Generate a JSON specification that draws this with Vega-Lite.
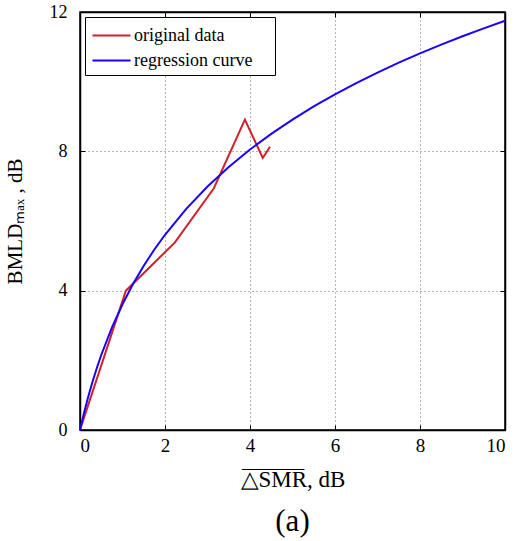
{
  "$schema": "https://vega.github.io/schema/vega-lite/v6.json",
  "width": 425,
  "height": 418,
  "autosize": "none",
  "padding": {"left": 80, "top": 12, "right": 10, "bottom": 111},
  "background": "white",
  "title": {"text": "(a)", "orient": "bottom", "font": "Liberation Serif", "fontSize": 31, "fontWeight": "normal", "color": "black", "offset": 16, "anchor": "middle"},
  "config": {
    "font": "Liberation Serif",
    "view": {"stroke": "black", "strokeWidth": 1.5},
    "style": {"guide-label": {"font": "Liberation Serif"}, "guide-title": {"font": "Liberation Serif"}},
    "axis": {"labelFont": "Liberation Serif", "titleFont": "Liberation Serif"},
    "legend": {"labelFont": "Liberation Serif"}
  },
  "data": {"values": [
    {"series": "original data", "x": 0, "y": 0},
    {"series": "original data", "x": 1.08, "y": 4.0},
    {"series": "original data", "x": 2.23, "y": 5.38},
    {"series": "original data", "x": 3.15, "y": 6.94},
    {"series": "original data", "x": 3.88, "y": 8.91},
    {"series": "original data", "x": 4.30, "y": 7.81},
    {"series": "original data", "x": 4.47, "y": 8.13},
    {"series": "regression curve", "x": 0, "y": 0},
    {"series": "regression curve", "x": 0.1, "y": 0.519},
    {"series": "regression curve", "x": 0.2, "y": 0.985},
    {"series": "regression curve", "x": 0.3, "y": 1.408},
    {"series": "regression curve", "x": 0.4, "y": 1.795},
    {"series": "regression curve", "x": 0.5, "y": 2.153},
    {"series": "regression curve", "x": 0.75, "y": 2.94},
    {"series": "regression curve", "x": 1, "y": 3.611},
    {"series": "regression curve", "x": 1.25, "y": 4.197},
    {"series": "regression curve", "x": 1.5, "y": 4.716},
    {"series": "regression curve", "x": 1.75, "y": 5.182},
    {"series": "regression curve", "x": 2, "y": 5.605},
    {"series": "regression curve", "x": 2.5, "y": 6.349},
    {"series": "regression curve", "x": 3, "y": 6.989},
    {"series": "regression curve", "x": 3.5, "y": 7.551},
    {"series": "regression curve", "x": 4, "y": 8.051},
    {"series": "regression curve", "x": 4.5, "y": 8.502},
    {"series": "regression curve", "x": 5, "y": 8.912},
    {"series": "regression curve", "x": 5.5, "y": 9.289},
    {"series": "regression curve", "x": 6, "y": 9.637},
    {"series": "regression curve", "x": 6.5, "y": 9.961},
    {"series": "regression curve", "x": 7, "y": 10.262},
    {"series": "regression curve", "x": 7.5, "y": 10.546},
    {"series": "regression curve", "x": 8, "y": 10.813},
    {"series": "regression curve", "x": 8.5, "y": 11.065},
    {"series": "regression curve", "x": 9, "y": 11.304},
    {"series": "regression curve", "x": 9.5, "y": 11.531},
    {"series": "regression curve", "x": 10, "y": 11.747}
  ]},
  "layer": [
    {
      "mark": {"type": "line", "opacity": 0},
      "encoding": {
        "x": {
          "field": "x", "type": "quantitative",
          "scale": {"domain": [0, 10], "nice": false},
          "axis": {"orient": "top", "values": [0, 2, 4, 6, 8, 10], "labels": false, "title": null, "grid": false,
                   "domainColor": "black", "domainWidth": 1.5, "tickColor": "black", "tickSize": -5}
        },
        "y": {
          "field": "y", "type": "quantitative",
          "scale": {"domain": [0, 12], "nice": false},
          "axis": {"orient": "right", "values": [0, 4, 8, 12], "labels": false, "title": null, "grid": false,
                   "domainColor": "black", "domainWidth": 1.5, "tickColor": "black", "tickSize": -5}
        },
        "detail": {"field": "series"}
      }
    },
    {
      "mark": {"type": "line", "strokeWidth": 2},
      "encoding": {
        "x": {
          "field": "x", "type": "quantitative",
          "scale": {"domain": [0, 10], "nice": false},
          "axis": {
            "orient": "bottom",
            "values": [0, 2, 4, 6, 8, 10],
            "title": ["\u203e\u203e\u203e\u203e\u203e\u203e\u203e\u203e\u00a0\u2800\u2800", "\u25b3SMR, dB"],
            "titleFont": "Liberation Serif", "titleFontSize": 23, "titleFontWeight": "normal", "titleColor": "black", "titlePadding": 14, "titleLineHeight": -1,
            "labelFont": "Liberation Serif", "labelFontSize": 19, "labelColor": "black", "labelPadding": 11,
            "domainColor": "black", "domainWidth": 1.5,
            "tickColor": "black", "tickSize": -5,
            "grid": true, "gridColor": "#666666", "gridDash": [1, 3], "gridWidth": 1
          }
        },
        "y": {
          "field": "y", "type": "quantitative",
          "scale": {"domain": [0, 12], "nice": false},
          "axis": {
            "orient": "left",
            "values": [0, 4, 8, 12],
            "title": "BMLD\u2098\u2090\u2093 , dB",
            "titleFont": "Liberation Serif", "titleFontSize": 21, "titleFontWeight": "normal", "titleColor": "black", "titlePadding": 24,
            "labelFont": "Liberation Serif", "labelFontSize": 18, "labelColor": "black", "labelPadding": 18,
            "domainColor": "black", "domainWidth": 1.5,
            "tickColor": "black", "tickSize": -5,
            "grid": true, "gridColor": "#666666", "gridDash": [1, 3], "gridWidth": 1
          }
        },
        "color": {
          "field": "series", "type": "nominal",
          "scale": {"domain": ["original data", "regression curve"], "range": ["#d0202a", "#1a00ff"]},
          "legend": {
            "title": null, "orient": "top-left", "offset": 5,
            "strokeColor": "black", "fillColor": "white", "padding": 5,
            "labelFont": "Liberation Serif", "labelFontSize": 18, "labelColor": "black",
            "labelExpr": "datum.label + '\u00a0\u2800'",
            "symbolType": "M-1.52,0H1.52", "symbolStrokeWidth": 2, "symbolSize": 625, "symbolOffset": 8,
            "rowPadding": 2, "labelOffset": 9
          }
        }
      }
    }
  ],
  "resolve": {"axis": {"x": "independent", "y": "independent"}}
}
